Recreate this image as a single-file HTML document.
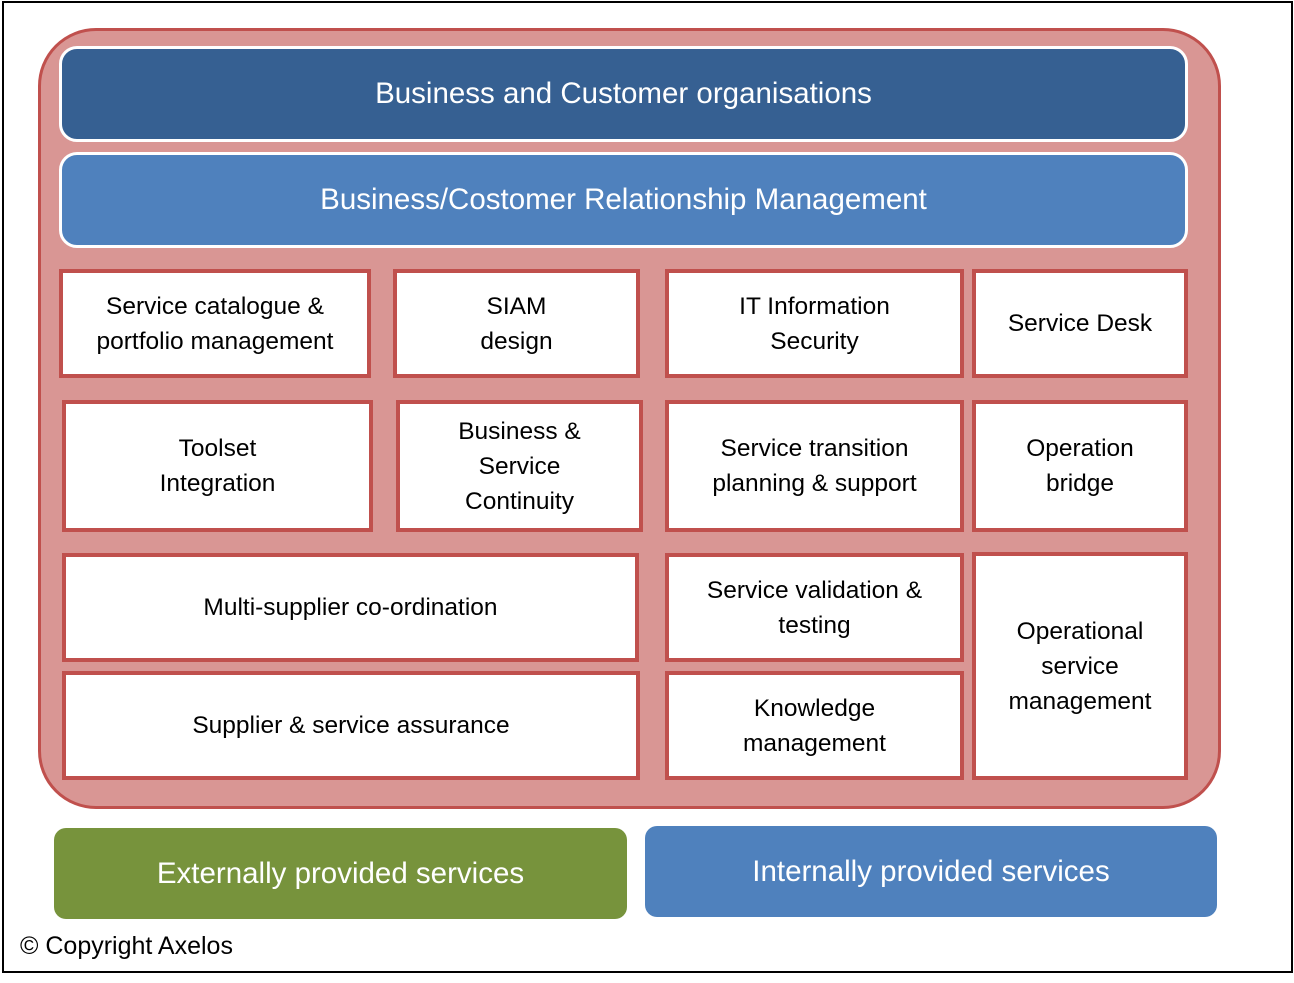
<!DOCTYPE html>
<html><head><style>
body{margin:0;width:1294px;height:983px;background:#fff;position:relative;font-family:"Liberation Sans",sans-serif;overflow:hidden}
div{position:absolute;box-sizing:border-box}
.frame{left:2px;top:1px;width:1291px;height:972px;border:2px solid #000}
.cont{left:38px;top:28px;width:1183px;height:781px;background:#d99694;border:3px solid #c0504d;border-radius:58px}
.bar{left:59px;width:1129px;height:96px;border:3px solid #fff;border-radius:18px;color:#fff;font-size:29.5px;display:flex;align-items:center;justify-content:center}
.b{background:#fff;border:4px solid #c0504d;display:flex;align-items:center;justify-content:center;text-align:center;font-size:24.5px;line-height:35px;color:#000}
.bot{height:91px;border-radius:12px;color:#fff;font-size:29.5px;display:flex;align-items:center;justify-content:center}
</style></head><body>
<div class="frame"></div>
<div class="cont"></div>
<div class="bar" style="top:46px;background:#366092">Business and Customer organisations</div>
<div class="bar" style="top:152px;background:#4f81bd">Business/Costomer Relationship Management</div>

<div class="b" style="left:59px;top:269px;width:312px;height:109px">Service catalogue &amp;<br>portfolio management</div>
<div class="b" style="left:393px;top:269px;width:247px;height:109px">SIAM<br>design</div>
<div class="b" style="left:665px;top:269px;width:299px;height:109px">IT Information<br>Security</div>
<div class="b" style="left:972px;top:269px;width:216px;height:109px">Service Desk</div>

<div class="b" style="left:62px;top:400px;width:311px;height:132px">Toolset<br>Integration</div>
<div class="b" style="left:396px;top:400px;width:247px;height:132px">Business &amp;<br>Service<br>Continuity</div>
<div class="b" style="left:665px;top:400px;width:299px;height:132px">Service transition<br>planning &amp; support</div>
<div class="b" style="left:972px;top:400px;width:216px;height:132px">Operation<br>bridge</div>

<div class="b" style="left:62px;top:553px;width:577px;height:109px">Multi-supplier co-ordination</div>
<div class="b" style="left:665px;top:553px;width:299px;height:109px">Service validation &amp;<br>testing</div>
<div class="b" style="left:972px;top:552px;width:216px;height:228px">Operational<br>service<br>management</div>

<div class="b" style="left:62px;top:671px;width:578px;height:109px">Supplier &amp; service assurance</div>
<div class="b" style="left:665px;top:671px;width:299px;height:109px">Knowledge<br>management</div>

<div class="bot" style="left:54px;top:828px;width:573px;background:#77933c">Externally provided services</div>
<div class="bot" style="left:645px;top:826px;width:572px;background:#4f81bd">Internally provided services</div>
<div style="left:20px;top:932px;font-size:25px;color:#000">© Copyright Axelos</div>
</body></html>
